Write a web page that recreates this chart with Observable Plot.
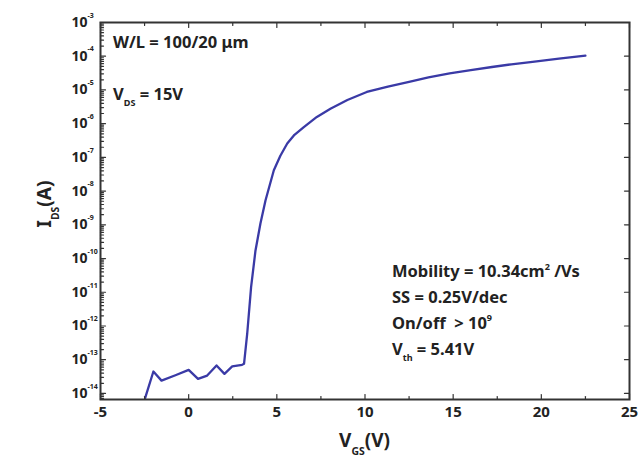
<!DOCTYPE html>
<html><head><meta charset="utf-8">
<script src="https://cdn.jsdelivr.net/npm/d3@7"></script>
<script src="https://cdn.jsdelivr.net/npm/@observablehq/plot@0.6"></script>
<style>
body{margin:0;background:#fff;}
</style></head><body><div id="chart"></div>
<script>
// Gate voltage (V)
const vgs = [-2.47, -2.0, -1.54, -0.75, 0.0, 0.53, 1.05, 1.58, 2.03, 2.47, 3.03, 3.14, 3.32, 3.54, 3.79, 4.07, 4.36, 4.83, 5.2, 5.59, 6.0, 6.53, 7.27, 8.04, 9.0, 10.1, 11.3, 12.5, 13.6, 14.8, 16.0, 17.2, 18.3, 19.5, 21.0, 22.5];
// log10 of drain current (A)
const logIds = [-14.14, -13.35, -13.62, -13.46, -13.30, -13.57, -13.47, -13.17, -13.42, -13.2, -13.15, -13.12, -12.23, -10.85, -9.76, -8.96, -8.27, -7.38, -6.95, -6.59, -6.33, -6.10, -5.80, -5.56, -5.30, -5.06, -4.9, -4.76, -4.63, -4.51, -4.41, -4.32, -4.24, -4.17, -4.07, -3.98];
const xMajor = [-5, 0, 5, 10, 15, 20, 25];
const xMinor = [-2.5, 2.5, 7.5, 12.5, 17.5, 22.5];
const yExponents = [-14, -13, -12, -11, -10, -9, -8, -7, -6, -5, -4, -3];
const annoTop = ["W/L = 100/20 μm", "V", "DS", " = 15V"];
const annoBox = ["Mobility = 10.34cm", "2", " /Vs", "SS = 0.25V/dec", "On/off  > 10", "9", "V", "th", " = 5.41V"];

const data = vgs.map((v, k) => ({v, i: Math.pow(10, logIds[k])}));
const yMajor = yExponents.map(e => Math.pow(10, e));
const yLo = Math.pow(10, -14.18), yHi = 1e-3;
const yMinor = [];
for (let e = -15; e < -3; e++) for (let m = 2; m <= 9; m++) {
  const val = m * Math.pow(10, e);
  if (val > yLo && val < yHi) yMinor.push(val);
}
const line = {draw(ctx, l) { ctx.moveTo(0, 0); ctx.lineTo(0, -l); }};
const tk = (arr, ch, anchor, rot, len) => Plot.vector(arr, {[ch]: d => d, frameAnchor: anchor, rotate: rot, length: len, anchor: "start", shape: line, stroke: "#333", strokeWidth: 1.2});

const chart = Plot.plot({
  width: 643, height: 462,
  marginLeft: 100, marginTop: 22, marginRight: 14, marginBottom: 63,
  x: {domain: [-5, 25], axis: null},
  y: {type: "log", domain: [yLo, yHi], axis: null},
  marks: [
    Plot.line(data, {x: "v", y: "i", stroke: "#3a3aa6", strokeWidth: 2.3}),
    tk(xMajor, "x", "bottom", 0, 5), tk(xMinor, "x", "bottom", 0, 3),
    tk(xMajor, "x", "top", 180, 5), tk(xMinor, "x", "top", 180, 3),
    tk(yMajor, "y", "left", 90, 5), tk(yMinor, "y", "left", 90, 3),
    tk(yMajor, "y", "right", -90, 5),
    Plot.frame({stroke: "#333", strokeWidth: 2}),
    Plot.text(xMajor, {x: d => d, frameAnchor: "bottom", dy: 13, text: d => String(d), fontSize: 15, fontWeight: "bold", fill: "#222", lineAnchor: "middle"}),
    Plot.text(yExponents, {y: e => Math.pow(10, e), frameAnchor: "left", dx: -13, text: () => "10", textAnchor: "end", fontSize: 14, fontWeight: "bold", fill: "#222"}),
    Plot.text(yExponents, {y: e => Math.pow(10, e), frameAnchor: "left", dx: -13, dy: -7, text: e => "-" + (-e), textAnchor: "start", fontSize: 7, fontWeight: "bold", fill: "#222"})
  ]
});
document.getElementById("chart").appendChild(chart);

const X = chart.scale("x").apply, Y = chart.scale("y").apply;
const svg = d3.select(chart);
function addText(x, y, parts, size, opts = {}) {
  const t = svg.append("text")
    .attr("font-size", size).attr("font-weight", "bold").attr("fill", "#222")
    .attr("text-anchor", opts.anchor || "start");
  if (opts.transform) t.attr("transform", opts.transform);
  else t.attr("x", x).attr("y", y);
  let shift = 0;
  for (const p of parts) {
    const s = t.append("tspan").text(p.t);
    const target = p.sub ? 0.4 * size : p.sup ? -0.45 * size : 0;
    if (target - shift !== 0) s.attr("dy", target - shift);
    shift = target;
    if (p.sub || p.sup) s.attr("font-size", size * 0.55);
  }
  return t;
}
const fs = 16.5;
addText(X(-4.26), Y(Math.pow(10, -3.76)), [{t: annoTop[0]}], fs);
addText(X(-4.26), Y(Math.pow(10, -5.3)), [{t: annoTop[1]}, {t: annoTop[2], sub: true}, {t: annoTop[3]}], fs);
addText(X(11.56), Y(Math.pow(10, -10.56)), [{t: annoBox[0]}, {t: annoBox[1], sup: true}, {t: annoBox[2]}], fs);
addText(X(11.56), Y(Math.pow(10, -11.33)), [{t: annoBox[3]}], fs);
addText(X(11.56), Y(Math.pow(10, -12.1)), [{t: annoBox[4]}, {t: annoBox[5], sup: true}], fs);
addText(X(11.56), Y(Math.pow(10, -12.87)), [{t: annoBox[6]}, {t: annoBox[7], sub: true}, {t: annoBox[8]}], fs);
// axis titles
addText(0, 0, [{t: "V"}, {t: "GS", sub: true}, {t: "(V)"}], 19, {anchor: "middle", transform: `translate(${X(10)},447)`});
addText(0, 0, [{t: "I"}, {t: "DS", sub: true}, {t: "(A)"}], 19, {anchor: "middle", transform: `translate(51,${Y(Math.pow(10, -8.4))}) rotate(-90)`});
</script></body></html>
